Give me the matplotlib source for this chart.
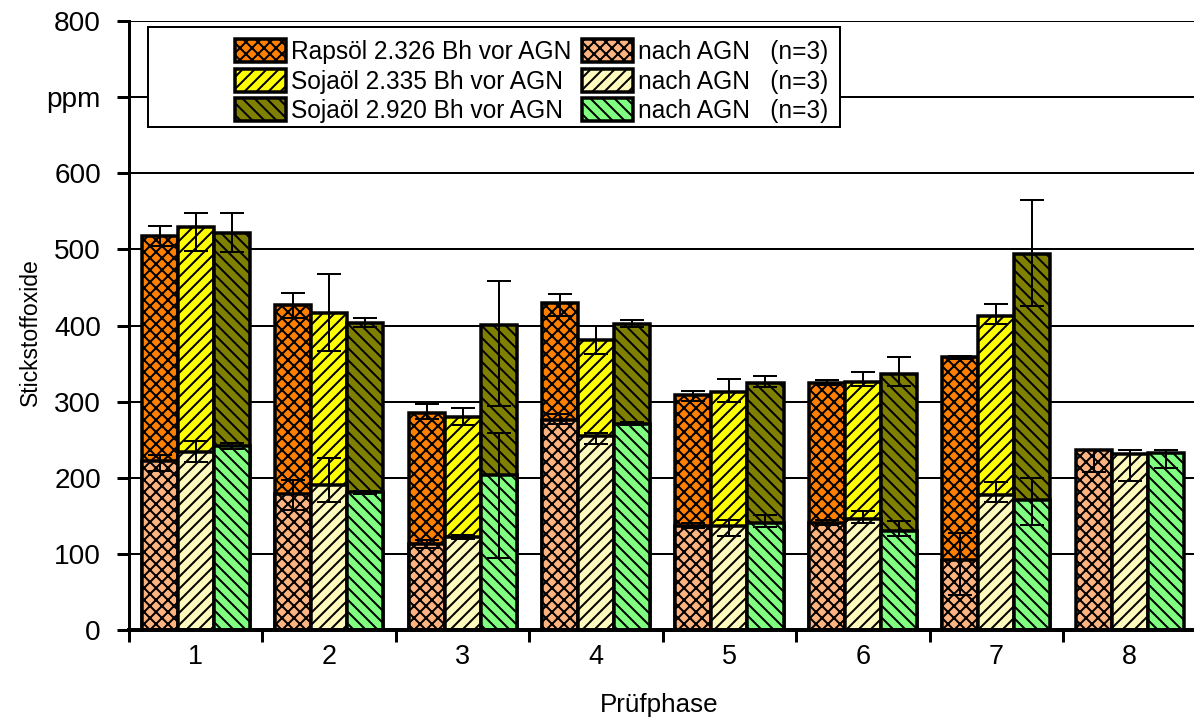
import numpy as np
import matplotlib
matplotlib.use("Agg")
import matplotlib.pyplot as plt
from matplotlib.patches import Rectangle, Patch

plt.rcParams['font.family'] = ['Liberation Sans', 'DejaVu Sans']
plt.rcParams['hatch.linewidth'] = 2.0

phasen = ['1', '2', '3', '4', '5', '6', '7', '8']
nan = np.nan

# vor AGN
raps_vor = [518, 427, 285, 430, 309, 325, 358, nan]
raps_vor_lo = [14, 17, 8, 18, 8, 3, 2, 0]
raps_vor_hi = [13, 16, 12, 11, 5, 3, 2, 0]
soja1_vor = [529, 417, 280, 381, 312, 326, 412, nan]
soja1_vor_lo = [31, 50, 11, 18, 13, 6, 10, 0]
soja1_vor_hi = [19, 51, 12, 18, 18, 13, 16, 0]
soja2_vor = [521, 403, 401, 402, 325, 336, 494, nan]
soja2_vor_lo = [24, 5, 107, 4, 6, 15, 68, 0]
soja2_vor_hi = [27, 7, 57, 5, 9, 23, 71, 0]

# nach AGN
raps_nach = [222, 179, 113, 276, 137, 141, 92, 237]
raps_nach_lo = [13, 21, 5, 5, 3, 3, 46, 29]
raps_nach_hi = [8, 18, 5, 8, 3, 3, 35, 0]
soja1_nach = [234, 190, 122, 255, 136, 146, 177, 231]
soja1_nach_lo = [13, 22, 3, 11, 13, 5, 9, 35]
soja1_nach_hi = [14, 36, 3, 4, 8, 10, 17, 5]
soja2_nach = [242, 181, 204, 271, 141, 130, 171, 233]
soja2_nach_lo = [4, 2, 109, 2, 6, 7, 33, 20]
soja2_nach_hi = [4, 2, 55, 2, 10, 13, 29, 4]

labels_vor = ['Rapsöl 2.326 Bh vor AGN', 'Sojaöl 2.335 Bh vor AGN', 'Sojaöl 2.920 Bh vor AGN']
label_nach = 'nach AGN   (n=3)'

fig = plt.figure(figsize=(1194 / 72, 722 / 72), dpi=72)
ax = fig.add_axes([129 / 1194, 92 / 722, 1067.5 / 1194, 609 / 722])

x = np.arange(len(phasen))
w = 0.27
offsets = [-w, 0, w]
hatches = ['xx', '//', '\\\\']
cols_vor = ['#FF8000', '#FFFF00', '#808000']
cols_nach = ['#FDB380', '#FFFBBE', '#80FF80']

vor = [(raps_vor, raps_vor_lo, raps_vor_hi), (soja1_vor, soja1_vor_lo, soja1_vor_hi),
       (soja2_vor, soja2_vor_lo, soja2_vor_hi)]
nach = [(raps_nach, raps_nach_lo, raps_nach_hi), (soja1_nach, soja1_nach_lo, soja1_nach_hi),
        (soja2_nach, soja2_nach_lo, soja2_nach_hi)]

for i in range(3):
    ax.bar(x + offsets[i], vor[i][0], w, color=cols_vor[i], edgecolor='black',
           linewidth=3.5, hatch=hatches[i], zorder=3)
for i in range(3):
    ax.bar(x + offsets[i], nach[i][0], w, color=cols_nach[i], edgecolor='black',
           linewidth=3.5, hatch=hatches[i], zorder=4)

for grp in (vor, nach):
    for i in range(3):
        vals, lo, hi = grp[i]
        ax.errorbar(x + offsets[i], vals, yerr=[lo, hi], fmt='none', ecolor='black',
                    elinewidth=2, capsize=12, capthick=2, zorder=6)

ax.set_xlim(-0.5, 7.5)
ax.set_ylim(0, 800)
ax.set_yticks(np.arange(0, 801, 100))
ax.set_yticklabels(['0', '100', '200', '300', '400', '500', '600', 'ppm', '800'])
ax.set_xticks(x)
ax.set_xticklabels(phasen)
ax.set_xticks(np.arange(-0.5, 7.5, 1), minor=True)

ax.yaxis.grid(True, color='black', linewidth=2, zorder=0)
ax.set_axisbelow(True)

for s in ['top', 'right']:
    ax.spines[s].set_visible(False)
ax.spines['left'].set_linewidth(3)
ax.spines['bottom'].set_linewidth(4)
ax.spines['left'].set_zorder(7)
ax.spines['bottom'].set_zorder(7)

ax.tick_params(axis='y', which='major', direction='out', length=12, width=3, labelsize=28, pad=16)
ax.tick_params(axis='x', which='major', length=0, labelsize=27, pad=14)
ax.tick_params(axis='x', which='minor', direction='out', length=12, width=3)

ax.set_ylabel('Stickstoffoxide', fontsize=23)
ax.yaxis.set_label_coords(-0.0815, 0.49)
ax.set_xlabel('Prüfphase', fontsize=26)
ax.xaxis.set_label_coords(0.497, -0.103)

# legend box
ax.add_patch(Rectangle((0.0178, 0.826), 0.648, 0.164, transform=ax.transAxes,
                       facecolor='white', edgecolor='black', linewidth=2, zorder=8, clip_on=False))

handles = []
for i in range(3):
    handles.append(Patch(facecolor=cols_vor[i], edgecolor='black', linewidth=3.5,
                         hatch=hatches[i], label=labels_vor[i]))
for i in range(3):
    handles.append(Patch(facecolor=cols_nach[i], edgecolor='black', linewidth=3.5,
                         hatch=hatches[i], label=label_nach))
leg = ax.legend(handles=handles, ncol=2, loc='upper left', bbox_to_anchor=(0.0993, 0.9704),
                bbox_transform=ax.transAxes, frameon=False, fontsize=24.5, borderpad=0,
                handlelength=2.1, handleheight=1.06, handletextpad=0.2,
                labelspacing=0.2, columnspacing=0.4, borderaxespad=0)
leg.set_zorder(9)

fig.savefig('out.png', dpi=72)
